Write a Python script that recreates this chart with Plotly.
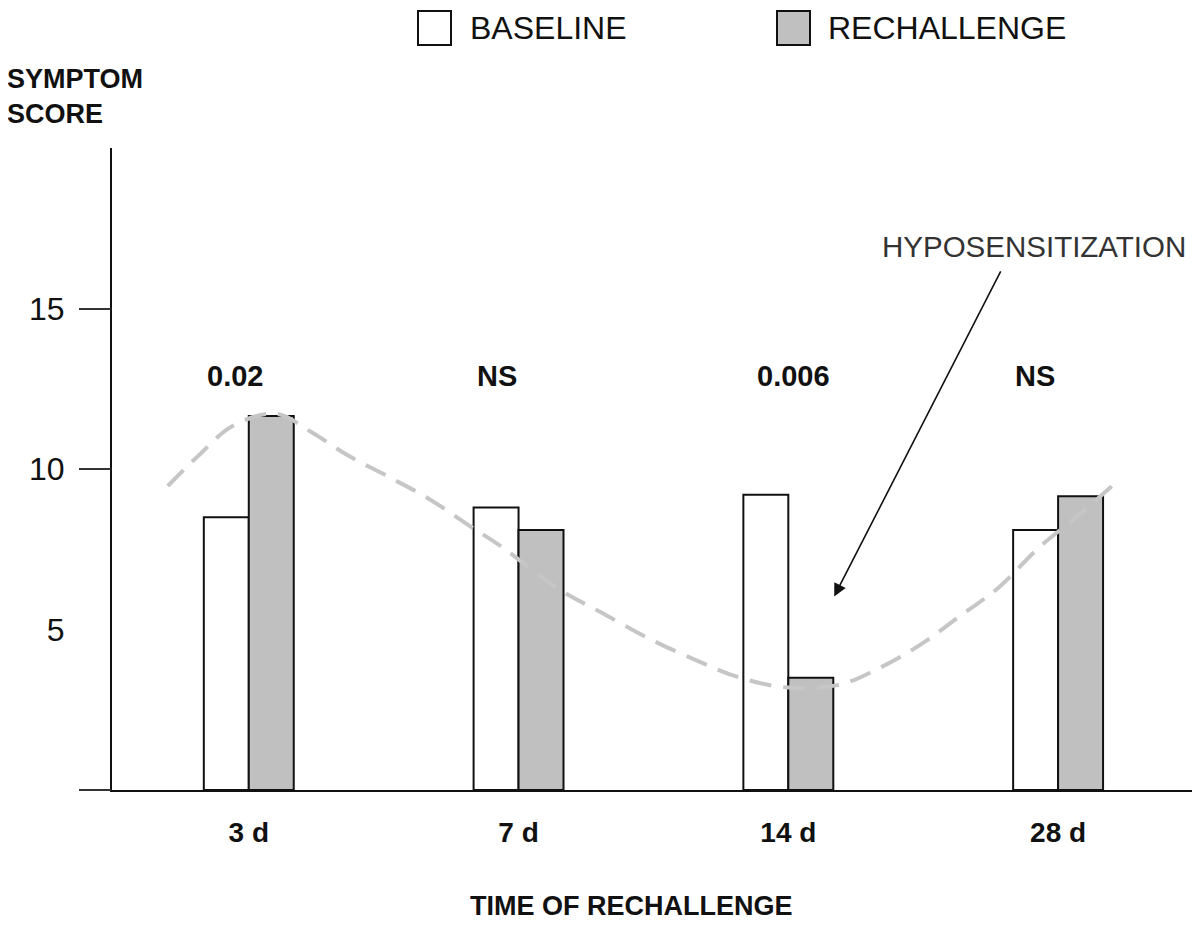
import plotly.graph_objects as go

# ---------------- data ----------------
categories = ["3 d", "7 d", "14 d", "28 d"]
baseline = [8.5, 8.8, 9.2, 8.1]
rechallenge = [11.65, 8.1, 3.5, 9.15]
p_values = ["0.02", "NS", "0.006", "NS"]
p_offsets = [-0.05, -0.08, 0.02, -0.085]
p_y = 12.9

# dashed trend curve (x in category units, y in score units)
trend_x = [-0.30, -0.18, -0.06, 0.10, 0.23, 0.37, 0.52, 0.67, 0.82, 0.94, 1.15,
           1.30, 1.49, 1.67, 1.82, 2.00, 2.19, 2.34, 2.49, 2.63, 2.78, 2.93,
           3.08, 3.20]
trend_y = [9.47, 10.47, 11.34, 11.72, 11.16, 10.41, 9.75, 9.06, 8.22, 7.56, 6.25,
           5.56, 4.69, 4.00, 3.50, 3.19, 3.28, 3.81, 4.53, 5.38, 6.31, 7.56,
           8.59, 9.47]

y_ticks = [5, 10, 15]
y_tick_marks = [0, 10, 15]
arrow_tail = (2.79, 16.2)
arrow_head = (2.17, 6.03)

# ---------------- layout constants ----------------
OFF = 8  # page body margin
W, H = 1200 - OFF, 925 - OFF
ML, MR, MT, MB = 112 - OFF, 0, 148 - OFF, 135
FONT = "Liberation Sans, Arial, Helvetica, sans-serif"
BAR_W = 1 / 6
GREY = "#c0c0c0"

pw = W - ML - MR
ph = H - MT - MB


def px(xp):
    return (xp - OFF - ML) / pw


def py(yp):
    return (H - MB - (yp - OFF)) / ph


idx = list(range(len(categories)))

fig = go.Figure()
fig.add_trace(go.Bar(
    x=idx, y=baseline, name="BASELINE", width=BAR_W, offset=-BAR_W,
    marker=dict(color="white", line=dict(color="#111", width=2)),
    showlegend=False,
))
fig.add_trace(go.Bar(
    x=idx, y=rechallenge, name="RECHALLENGE", width=BAR_W, offset=0,
    marker=dict(color=GREY, line=dict(color="#111", width=2)),
    showlegend=False,
))
fig.add_trace(go.Scatter(
    x=trend_x, y=trend_y, mode="lines", yaxis="y2",
    line=dict(color="#c6c6c6", width=4, dash="22px,12px", shape="spline"),
    showlegend=False, hoverinfo="skip",
))

annotations = []
for i, (t, o) in enumerate(zip(p_values, p_offsets)):
    annotations.append(dict(
        x=i + o, y=p_y, xref="x", yref="y", text=t, showarrow=False,
        font=dict(family=FONT, size=29, color="#111", weight="bold"),
    ))

# hyposensitization label + arrow
annotations.append(dict(
    x=px(880), y=py(247), xref="paper", yref="paper", xanchor="left",
    yanchor="middle", text="HYPOSENSITIZATION", showarrow=False,
    font=dict(family=FONT, size=29.5, color="#333"),
))
annotations.append(dict(
    x=arrow_head[0], y=arrow_head[1], xref="x", yref="y",
    ax=arrow_tail[0], ay=arrow_tail[1], axref="x", ayref="y",
    text="", showarrow=True, arrowhead=2, arrowsize=1.6, arrowwidth=1.6,
    arrowcolor="#111",
))

# axis titles
annotations.append(dict(
    x=px(5), y=py(97), xref="paper", yref="paper", xanchor="left",
    yanchor="middle", align="left", text="SYMPTOM<br>SCORE", showarrow=False,
    font=dict(family=FONT, size=27, color="#111", weight="bold"),
))
annotations.append(dict(
    x=px(631), y=py(906), xref="paper", yref="paper", xanchor="center",
    yanchor="middle", text="TIME OF RECHALLENGE", showarrow=False,
    font=dict(family=FONT, size=27, color="#111", weight="bold"),
))

# manual legend
legend_items = [("BASELINE", "white", 418, 468), ("RECHALLENGE", GREY, 777, 826)]
shapes = []
for name, col, bx, tx in legend_items:
    shapes.append(dict(
        type="rect", xref="paper", yref="paper",
        x0=px(bx), x1=px(bx + 33), y0=py(45), y1=py(11),
        fillcolor=col, line=dict(color="#111", width=2),
    ))
    annotations.append(dict(
        x=px(tx), y=py(28), xref="paper", yref="paper", xanchor="left",
        yanchor="middle", text=name, showarrow=False,
        font=dict(family=FONT, size=32, color="#111"),
    ))

fig.update_layout(
    width=W, height=H,
    margin=dict(l=ML, r=MR, t=MT, b=MB, autoexpand=False),
    paper_bgcolor="white", plot_bgcolor="white",
    barmode="overlay",
    showlegend=False,
    font=dict(family=FONT, color="#111"),
    xaxis=dict(
        range=[-0.507, 3.526], tickvals=idx, ticktext=categories,
        showline=True, linecolor="#111", linewidth=2, ticks="",
        showgrid=False, zeroline=False, ticklabelstandoff=16,
        tickfont=dict(family=FONT, size=28, color="#111", weight="bold"),
    ),
    yaxis=dict(
        range=[0, 20], tickvals=y_ticks, ticks="", showgrid=False,
        zeroline=False, showline=True, linecolor="#111", linewidth=2,
        ticklabelstandoff=39,
        tickfont=dict(family=FONT, size=32, color="#111"),
    ),
    yaxis2=dict(
        range=[0, 20], overlaying="y", side="left", tickvals=y_tick_marks,
        ticks="outside", ticklen=32, tickwidth=2, tickcolor="#333",
        showticklabels=False, showgrid=False, zeroline=False, showline=False,
    ),
    annotations=annotations,
    shapes=shapes,
)

fig.write_html("out.html")
